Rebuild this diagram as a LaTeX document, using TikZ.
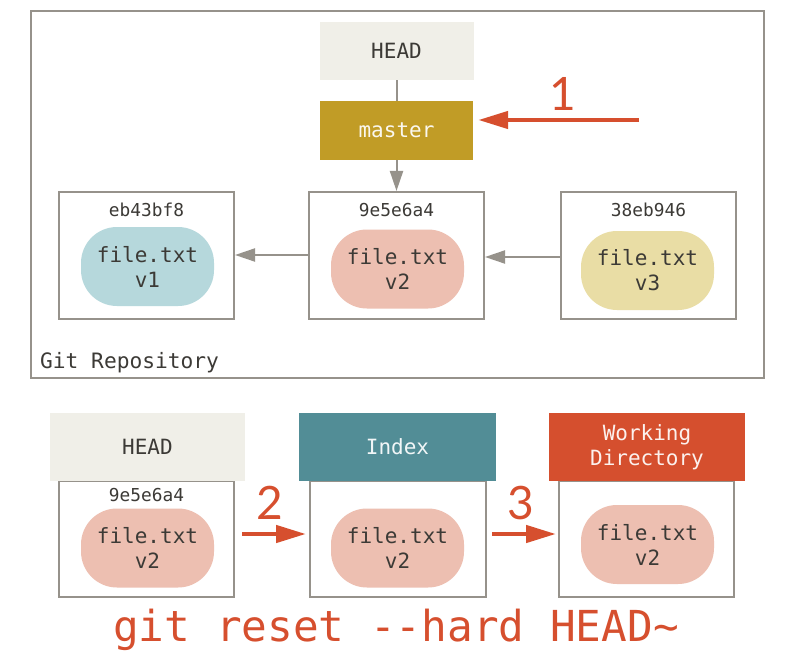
\documentclass[tikz,border=0pt]{standalone}
\usepackage{fontspec}
\setmonofont{DejaVu Sans Mono}
\newfontfamily\numfont{Lato}
\usetikzlibrary{calc,arrows.meta}
\definecolor{linegray}{HTML}{96928B}
\definecolor{txtgray}{HTML}{3C3A36}
\definecolor{headfill}{HTML}{F0EFE8}
\definecolor{masterfill}{HTML}{C19C26}
\definecolor{indexfill}{HTML}{528D96}
\definecolor{wdfill}{HTML}{D54F2E}
\definecolor{redc}{HTML}{D64F2E}
\definecolor{pinkblob}{HTML}{EDBFB1}
\definecolor{blueblob}{HTML}{B6D8DC}
\definecolor{yellowblob}{HTML}{E9DDA5}
\tikzset{
  frame/.style={draw=linegray, line width=2pt, fill=white, inner sep=0pt},
  header/.style={inner sep=0pt, font=\ttfamily\fontsize{21}{25}\selectfont, align=center},
  hash/.style={inner sep=0pt, text=txtgray, font=\ttfamily\fontsize{17.8}{20}\selectfont},
  blob/.style={rounded corners=36pt, minimum width=133pt, minimum height=79pt, inner sep=0pt,
     text=txtgray, align=center, font=\ttfamily\fontsize{21}{25}\selectfont},
  grayarrow/.style={draw=linegray, line width=2pt, -{Triangle[length=20pt,width=13pt]}},
  redarrow/.style={draw=redc, line width=4.5pt, -{Triangle[length=30pt,width=17pt]}},
  num/.style={inner sep=0pt, text=redc, font=\numfont\fontsize{46}{50}\selectfont}
}
\begin{document}
\begin{tikzpicture}[x=1pt,y=-1pt]
\useasboundingbox (0,0) rectangle (798,658);
% repository frame
\node[frame, minimum width=733pt, minimum height=367pt] (repo) at (397.5,194.5) {};
\node[inner sep=0pt, anchor=west, text=txtgray, font=\ttfamily\fontsize{21.2}{25}\selectfont] (repolabel) at (40,363) {Git Repository};
% HEAD and master
\node[header, fill=headfill, text=txtgray, minimum width=154pt, minimum height=58pt] (head) at (396.5,51) {HEAD};
\node[header, fill=masterfill, text=white!92!masterfill, minimum width=153pt, minimum height=59pt] (master) at (396.5,130.5) {master};
% commits
\node[frame, minimum width=175pt, minimum height=127pt] (c1) at (146.5,255.5) {};
\node[frame, minimum width=175pt, minimum height=127pt] (c2) at (396.5,255.5) {};
\node[frame, minimum width=175pt, minimum height=127pt] (c3) at (648.5,255.5) {};
\node[hash] (h1) at (146.5,210) {eb43bf8};
\node[hash] (h2) at (396.5,210) {9e5e6a4};
\node[hash] (h3) at (648.5,210) {38eb946};
\node[blob, fill=blueblob] (b1) at (147.5,266.5) {file.txt\\v1};
\node[blob, fill=pinkblob] (b2) at (397.5,269) {file.txt\\v2};
\node[blob, fill=yellowblob] (b3) at (647.5,270.5) {file.txt\\v3};
\draw[draw=linegray, line width=2pt] (head.south) -- (master.north);
\draw[grayarrow] (master.south) -- (c2.north);
\draw[grayarrow] ($(c2.west)+(0,-0.5)$) -- ($(c1.east)+(0,-0.5)$);
\draw[grayarrow] ($(c3.west)+(0,1.5)$) -- ($(c2.east)+(0,1.5)$);
% arrow 1
\coordinate (p1) at (639,120);
\draw[redarrow] (p1) -- ($(master.east|-p1)+(5,0)$);
\node[num] (n1) at (563,94) {1};
% bottom trees
\node[frame, minimum width=175pt, minimum height=116pt] (hb) at (146.5,539) {};
\node[frame, minimum width=176pt, minimum height=116pt] (ib) at (398,539) {};
\node[frame, minimum width=175pt, minimum height=116pt] (wb) at (646.5,539) {};
\node[header, fill=headfill, text=txtgray, minimum width=195pt, minimum height=68pt] (headb) at (147.5,447) {HEAD};
\node[header, fill=indexfill, text=white!92!indexfill, minimum width=197pt, minimum height=68pt] (index) at (397.5,447) {Index};
\node[header, fill=wdfill, text=white!92!wdfill, minimum width=196pt, minimum height=68pt] (wd) at (647,447) {Working\\Directory};
\node[hash] (hh) at (146.5,495) {9e5e6a4};
\node[blob, fill=pinkblob] (bh) at (147.5,548) {file.txt\\v2};
\node[blob, fill=pinkblob] (bi) at (397.5,548) {file.txt\\v2};
\node[blob, fill=pinkblob] (bw) at (647.5,544.5) {file.txt\\v2};
\draw[redarrow] ($(hb.east)+(7,-5)$) -- ($(ib.west)+(-3,-5)$);
\draw[redarrow] ($(ib.east)+(5,-5)$) -- ($(wb.west)+(-2,-5)$);
\node[num] (n2) at (270,503) {2};
\node[num] (n3) at (521,503) {3};
% command
\node[inner sep=0pt, text=redc, font=\ttfamily\fontsize{42.7}{46}\selectfont] (cmd) at (396,630) {git reset -{}-hard HEAD\textasciitilde};
\end{tikzpicture}
\end{document}
